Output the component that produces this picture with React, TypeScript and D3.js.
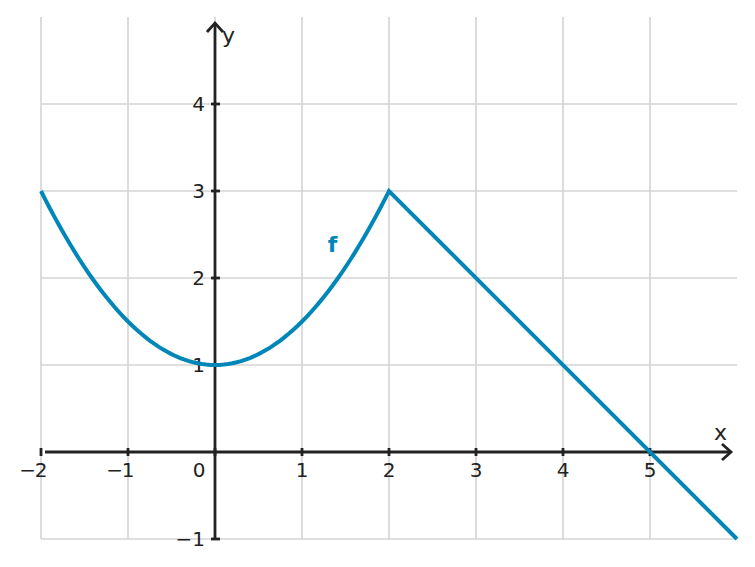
import { useEffect, useRef } from 'react'
import * as d3 from 'd3'

// piecewise f: parabola on [-2, 2], then a straight line down to x = 6
const parabolaXs = d3.range(-2, 2.0001, 0.05)
const parabolaYs = parabolaXs.map((x) => 0.5 * x * x + 1)
const lineXs = [2, 6]
const lineYs = [3, -1]

const xTicks = [-2, -1, 0, 1, 2, 3, 4, 5]
const yTicks = [-1, 1, 2, 3, 4]

const W = 755
const H = 567
const BLUE = '#0086b8'
const INK = '#222222'
const FONT = '"DejaVu Sans", sans-serif'

export default function App() {
  const svgRef = useRef<SVGSVGElement>(null)

  useEffect(() => {
    if (!svgRef.current) return
    const svg = d3.select(svgRef.current)
    svg.selectAll('*').remove()

    const x = d3.scaleLinear().domain([-2, 6]).range([41, 737])
    const y = d3.scaleLinear().domain([-1, 5]).range([539, 17])

    // grid
    const grid = svg.append('g').attr('stroke', '#d4d4d4').attr('stroke-width', 1.6)
    grid.selectAll('.vg')
      .data(xTicks)
      .enter()
      .append('line')
      .attr('x1', (d) => x(d))
      .attr('x2', (d) => x(d))
      .attr('y1', y(5))
      .attr('y2', y(-1))
    grid.selectAll('.hg')
      .data(yTicks)
      .enter()
      .append('line')
      .attr('x1', x(-2))
      .attr('x2', x(6))
      .attr('y1', (d) => y(d))
      .attr('y2', (d) => y(d))

    // axes
    const axes = svg.append('g').attr('stroke', INK).attr('stroke-width', 2.8).attr('fill', 'none')
    axes.append('line').attr('x1', x(-2) + 4).attr('x2', 731).attr('y1', y(0)).attr('y2', y(0))
    axes.append('path').attr('d', `M${722},${y(0) - 8} L${731},${y(0)} L${722},${y(0) + 8}`)
    axes.append('line').attr('x1', x(0)).attr('x2', x(0)).attr('y1', y(-1)).attr('y2', 23)
    axes.append('path').attr('d', `M${x(0) - 8},${32} L${x(0)},${23} L${x(0) + 8},${32}`)

    axes.selectAll('.xt')
      .data(xTicks)
      .enter()
      .append('line')
      .attr('x1', (d) => x(d))
      .attr('x2', (d) => x(d))
      .attr('y1', y(0) - 4)
      .attr('y2', y(0) + 4)
    axes.selectAll('.yt')
      .data(yTicks)
      .enter()
      .append('line')
      .attr('x1', x(0) - 4)
      .attr('x2', x(0) + 5)
      .attr('y1', (d) => y(d))
      .attr('y2', (d) => y(d))

    const labels = svg.append('g')
      .attr('fill', INK)
      .style('font-family', FONT)
      .style('font-size', '20px')

    // x labels: digit centred on the tick, minus sign hanging to the left
    labels.selectAll('.xl')
      .data(xTicks)
      .enter()
      .append('text')
      .attr('x', (d) => (d === 0 ? x(0) - 16 : x(d)))
      .attr('y', y(0) + 25)
      .attr('text-anchor', 'middle')
      .text((d) => `${Math.abs(d)}`)
    labels.selectAll('.xm')
      .data(xTicks.filter((d) => d < 0))
      .enter()
      .append('text')
      .attr('x', (d) => x(d) - 5)
      .attr('y', y(0) + 25)
      .attr('text-anchor', 'end')
      .text('\u2212')
    labels.selectAll('.yl')
      .data(yTicks)
      .enter()
      .append('text')
      .attr('x', x(0) - 10)
      .attr('y', (d) => y(d) + 7)
      .attr('text-anchor', 'end')
      .text((d) => (d < 0 ? `\u2212${-d}` : `${d}`))
    labels.append('text').attr('x', 222).attr('y', 43).style('font-size', '22px').text('y')
    labels.append('text').attr('x', 714).attr('y', 440).style('font-size', '22px').text('x')

    // curve
    const line = d3.line<[number, number]>()
      .x((d) => x(d[0]))
      .y((d) => y(d[1]))
    const pts: [number, number][] = [
      ...parabolaXs.map((v, i) => [v, parabolaYs[i]] as [number, number]),
      ...lineXs.map((v, i) => [v, lineYs[i]] as [number, number]),
    ]
    svg.append('path')
      .attr('d', line(pts))
      .attr('fill', 'none')
      .attr('stroke', BLUE)
      .attr('stroke-width', 4)
      .attr('stroke-linejoin', 'miter')

    svg.append('text')
      .attr('x', x(1.35))
      .attr('y', y(2.3))
      .attr('text-anchor', 'middle')
      .attr('fill', BLUE)
      .style('font-family', FONT)
      .style('font-weight', 'bold')
      .style('font-size', '22px')
      .text('f')
  }, [])

  return (
    <svg
      ref={svgRef}
      width={W}
      height={H}
      style={{ position: 'absolute', left: 0, top: 0, display: 'block', background: '#fff' }}
    />
  )
}
